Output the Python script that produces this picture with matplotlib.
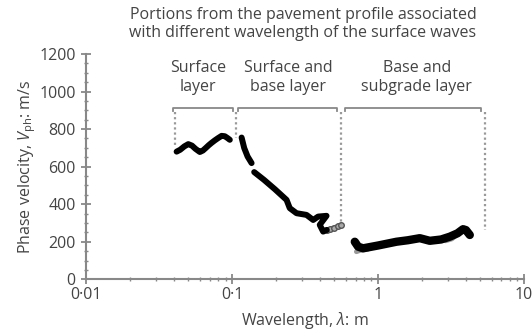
import matplotlib
matplotlib.use("Agg")
import matplotlib.pyplot as plt
from matplotlib.ticker import FixedLocator, LogLocator, NullFormatter, MultipleLocator

plt.rcParams['font.family'] = ['Open Sans', 'DejaVu Sans']
plt.rcParams['mathtext.fontset'] = 'custom'
plt.rcParams['mathtext.it'] = 'Open Sans:italic'
plt.rcParams['mathtext.rm'] = 'Open Sans'

# ---- data ----
surf_x = [0.0416, 0.044, 0.047, 0.050, 0.053, 0.056, 0.060, 0.063, 0.066, 0.069, 0.072, 0.076, 0.080, 0.0846, 0.089, 0.093, 0.0963]
surf_v = [680, 690, 708, 720, 712, 695, 678, 686, 700, 714, 726, 740, 752, 764, 762, 752, 743]

sb1_x = [0.116, 0.1209, 0.1275, 0.1358]
sb1_v = [755, 699, 654, 619]

sb2_x = [0.1415, 0.165, 0.196, 0.2358, 0.248, 0.276, 0.323, 0.359, 0.388, 0.443, 0.398, 0.42, 0.445]
sb2_v = [571, 530, 480, 423, 379, 352, 343, 316, 334, 338, 290, 254, 263]

sb_grey_x = [0.445, 0.47, 0.50, 0.53, 0.555]
sb_grey_v = [263, 268, 275, 282, 290]

bs_x = [0.692, 0.729, 0.789, 1.0, 1.336, 1.6, 1.93, 2.26, 2.7, 3.10, 3.5, 3.82, 4.0, 4.25]
bs_v = [200, 174, 165, 180, 200, 208, 219, 205, 212, 227, 245, 267, 262, 236]

bs_grey_x = [0.71, 0.76, 0.85, 2.9, 3.2, 3.5]
bs_grey_v = [147, 155, 160, 205, 215, 240]

# region brackets (wavelength bounds) and boundary dotted lines
br_x0 = [0.0394, 0.1097, 0.591]
br_x1 = [0.1006, 0.5196, 5.11]
br_labels = ["Surface\nlayer", "Surface and\nbase layer", "Base and\nsubgrade layer"]
br_label_x = [0.0582, 0.2407, 1.84]
div_x = [0.0403, 0.1069, 0.5555, 5.42]
div_vlow = [705, 750, 290, 263]

xticks = [0.01, 0.1, 1, 10]
xticklabels = ["0·01", "0·1", "1", "10"]
yticks = [0, 200, 400, 600, 800, 1000, 1200]

grey = "#888888"
txt = "#444444"

fig = plt.figure(figsize=(5.32, 3.33), dpi=100)
ax = fig.add_axes([0.1622, 0.1613, 0.985 - 0.1622, 0.8378 - 0.1613])

ax.set_xscale("log")
ax.set_xlim(0.01, 10)
ax.set_ylim(0, 1200)

lw = 4.3
for xs, vs in [(surf_x, surf_v), (sb1_x, sb1_v), (sb2_x, sb2_v)]:
    ax.plot(xs, vs, color="black", lw=lw, solid_capstyle="round",
            solid_joinstyle="round", zorder=3)
ax.plot(sb_grey_x, sb_grey_v, color="#777777", lw=3.5, solid_capstyle="round",
        marker="o", ms=4, mfc="#aaaaaa", mec="#555555", zorder=2)
ax.plot(bs_grey_x[:3], bs_grey_v[:3], color="#999999", lw=3.5,
        solid_capstyle="round", zorder=2)
ax.plot(bs_grey_x[3:], bs_grey_v[3:], color="#999999", lw=3.5,
        solid_capstyle="round", zorder=2)
ax.plot(bs_x, bs_v, color="black", lw=6.0, solid_capstyle="round",
        solid_joinstyle="round", zorder=3)

# brackets
ytop = 914
yhook = 895
for x0, x1, lab, lx in zip(br_x0, br_x1, br_labels, br_label_x):
    ax.plot([x0, x0, x1, x1], [yhook, ytop, ytop, yhook], color=grey, lw=1.3,
            clip_on=False, zorder=4)
    ax.text(lx, 1073, lab, ha="center", va="center", fontsize=11.5, color=txt,
            linespacing=1.25)
for x, vl in zip(div_x, div_vlow):
    ax.plot([x, x], [890, vl], color="#999999", lw=1.6, ls=(0, (1, 1.3)), zorder=4)

# axes styling
for s in ["top", "right"]:
    ax.spines[s].set_visible(False)
for s in ["left", "bottom"]:
    ax.spines[s].set_color(grey)
    ax.spines[s].set_linewidth(1.5)

ax.xaxis.set_major_locator(FixedLocator(xticks))
ax.set_xticklabels(xticklabels)
ax.xaxis.set_minor_locator(LogLocator(base=10, subs=range(2, 10)))
ax.xaxis.set_minor_formatter(NullFormatter())
ax.yaxis.set_major_locator(FixedLocator(yticks))
ax.yaxis.set_minor_locator(MultipleLocator(50))

ax.tick_params(which="major", direction="inout", length=7, width=1.3,
               color=grey, labelcolor=txt, labelsize=11.5)
ax.tick_params(axis="y", which="major", pad=4)
ax.tick_params(axis="x", which="major", pad=2)
ax.tick_params(which="minor", direction="inout", length=3.5, width=1.0,
               color=grey)

ax.set_xlabel(r"Wavelength, $\it{\lambda}$: m", fontsize=11.5, color=txt, labelpad=5)
ax.set_ylabel(r"Phase velocity, $\it{V}_{\rm ph}$: m/s", fontsize=11.5, color=txt,
              labelpad=1)

fig.text(303 / 532, 1 - 24 / 333,
         "Portions from the pavement profile associated\nwith different wavelength of the surface waves",
         ha="center", va="center", fontsize=11.5, color=txt, linespacing=1.1)

fig.savefig("out.png", dpi=100)
